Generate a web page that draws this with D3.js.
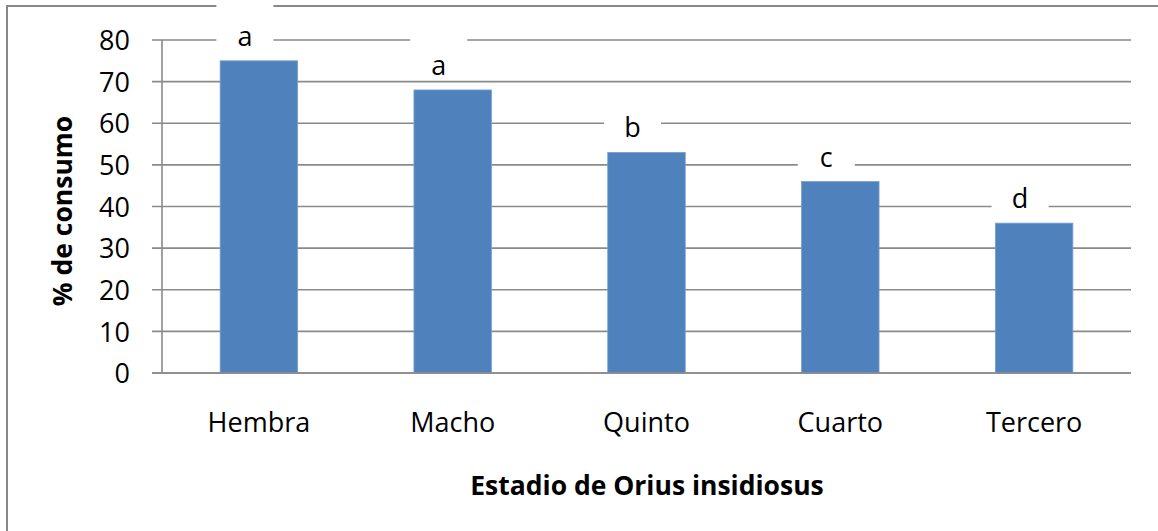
<!DOCTYPE html>
<html>
<head>
<meta charset="utf-8">
<script src="https://cdn.jsdelivr.net/npm/d3@7"></script>
<style>
  html, body { margin: 0; padding: 0; background: #fff; }
  svg text { font-family: "Open Sans", Lato, sans-serif; fill: #000; }
  .axis-label { font-weight: bold; font-size: 26.5px; }
</style>
</head>
<body>
<div id="chart"></div>
<script>
const estadios = ["Hembra", "Macho", "Quinto", "Cuarto", "Tercero"];
const consumo = [75, 68, 53, 46, 36];
const letras = ["a", "a", "b", "c", "d"];
const yTicks = [0, 10, 20, 30, 40, 50, 60, 70, 80];

const fullWidth = 1158, fullHeight = 531;
const plot = { left: 162, right: 1131, top: 40, bottom: 373 };
const fontSize = "27px";

const svg = d3.select("#chart")
  .append("svg")
  .attr("width", fullWidth)
  .attr("height", fullHeight);

// marco exterior (solo arriba e izquierda visibles)
svg.append("path")
  .attr("d", `M7,${fullHeight} L7,6 L${fullWidth},6`)
  .attr("fill", "none")
  .attr("stroke", "#888")
  .attr("stroke-width", 2);

const data = estadios.map((d, i) => ({ estadio: d, valor: consumo[i], letra: letras[i] }));

const xScale = d3.scaleBand()
  .domain(estadios)
  .range([plot.left, plot.right])
  .paddingInner(0.6)
  .paddingOuter(0.3);

const yScale = d3.scaleLinear()
  .domain([0, 80])
  .range([plot.bottom, plot.top]);

// lineas de cuadricula
svg.append("g")
  .selectAll("line")
  .data(yTicks)
  .enter()
  .append("line")
  .attr("x1", plot.left - 10)
  .attr("x2", plot.right)
  .attr("y1", d => yScale(d))
  .attr("y2", d => yScale(d))
  .attr("stroke", "#8a8a8a")
  .attr("stroke-width", 1.6);

// eje vertical
svg.append("line")
  .attr("x1", plot.left).attr("x2", plot.left)
  .attr("y1", yScale(80)).attr("y2", yScale(0))
  .attr("stroke", "#8a8a8a")
  .attr("stroke-width", 1.6);

const yAxis = svg.append("g")
  .attr("transform", `translate(${plot.left - 10},0)`)
  .call(d3.axisLeft(yScale).tickValues(yTicks).tickSize(0).tickPadding(22));
yAxis.select(".domain").remove();
yAxis.selectAll("text")
  .style("font-family", "'Open Sans', Lato, sans-serif")
  .style("font-size", fontSize)
  .attr("fill", "#000")
  .attr("dy", "0.36em");

// barras
svg.append("g")
  .selectAll("rect")
  .data(data)
  .enter()
  .append("rect")
  .attr("x", d => xScale(d.estadio))
  .attr("y", d => yScale(d.valor))
  .attr("width", xScale.bandwidth())
  .attr("height", d => yScale(0) - yScale(d.valor))
  .attr("fill", "#4f81bd")
  .attr("stroke", "#7a9fcf")
  .attr("stroke-width", 0.8);

// etiquetas de letras con fondo blanco
const labelX = d => xScale(d.estadio) + xScale.bandwidth() / 2 - 14;
const labelY = d => yScale(d.valor) - 23;

const etiquetas = svg.append("g")
  .selectAll("g")
  .data(data)
  .enter()
  .append("g");

etiquetas.append("rect")
  .attr("x", d => labelX(d) - 28.5)
  .attr("y", d => labelY(d) - 33)
  .attr("width", 57)
  .attr("height", 45)
  .attr("fill", "#fff");

etiquetas.append("text")
  .attr("x", labelX)
  .attr("y", labelY)
  .attr("dy", "0.3em")
  .attr("text-anchor", "middle")
  .style("font-size", fontSize)
  .text(d => d.letra);

// eje x (categorias)
const xAxis = svg.append("g")
  .attr("transform", `translate(0,${plot.bottom})`)
  .call(d3.axisBottom(xScale).tickSize(0).tickPadding(40));
xAxis.select(".domain").remove();
xAxis.selectAll("text")
  .style("font-family", "'Open Sans', Lato, sans-serif")
  .style("font-size", fontSize)
  .attr("fill", "#000");

svg.append("line")
  .attr("x1", plot.left - 10).attr("x2", plot.right)
  .attr("y1", yScale(0)).attr("y2", yScale(0))
  .attr("stroke", "#8a8a8a")
  .attr("stroke-width", 1.6);

// titulos de ejes
svg.append("text")
  .attr("class", "axis-label")
  .attr("text-anchor", "middle")
  .attr("x", 647)
  .attr("y", 486)
  .attr("dy", "0.35em")
  .text("Estadio de Orius insidiosus");

svg.append("text")
  .attr("class", "axis-label")
  .attr("text-anchor", "middle")
  .attr("transform", "rotate(-90)")
  .attr("x", -211)
  .attr("y", 63)
  .attr("dy", "0.35em")
  .text("% de consumo");
</script>
</body>
</html>
